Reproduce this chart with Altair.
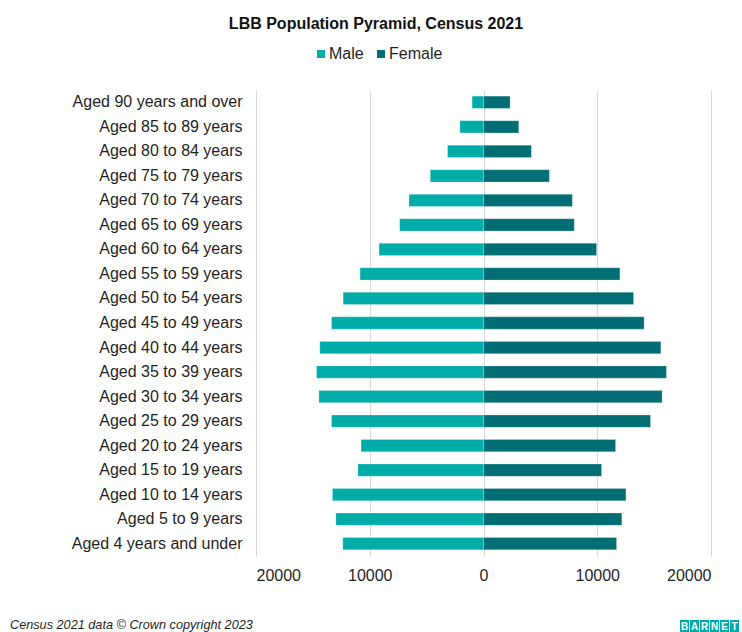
import altair as alt
import pandas as pd

# Age bands, oldest first (top of the pyramid)
age_bands = [
    "Aged 90 years and over", "Aged 85 to 89 years", "Aged 80 to 84 years",
    "Aged 75 to 79 years", "Aged 70 to 74 years", "Aged 65 to 69 years",
    "Aged 60 to 64 years", "Aged 55 to 59 years", "Aged 50 to 54 years",
    "Aged 45 to 49 years", "Aged 40 to 44 years", "Aged 35 to 39 years",
    "Aged 30 to 34 years", "Aged 25 to 29 years", "Aged 20 to 24 years",
    "Aged 15 to 19 years", "Aged 10 to 14 years", "Aged 5 to 9 years",
    "Aged 4 years and under",
]
male = [1000, 2080, 3160, 4680, 6550, 7370, 9180, 10850, 12340, 13360,
        14390, 14680, 14470, 13360, 10760, 11050, 13280, 12980, 12370]
female = [2340, 3100, 4210, 5790, 7810, 7980, 9940, 11990, 13190, 14120,
          15590, 16080, 15700, 14680, 11610, 10380, 12520, 12160, 11700]

x_ticks = [-20000, -10000, 0, 10000, 20000]
sexes = ["Male", "Female"]
colours = ["#00ACA8", "#006E74"]

title_text = "LBB Population Pyramid, Census 2021"
footer_text = "Census 2021 data \u00a9 Crown copyright 2023"
logo_letters = list("BARNET")

FONT = "Liberation Sans"
TEXT_COLOUR = "#1F1F1F"

# Layout (autosize none): plot area sits inside fixed padding
PAD = {"left": 256, "top": 90, "right": 31, "bottom": 76}
W, H = 455, 466

df = pd.DataFrame({"age": age_bands, "Male": male, "Female": female})

bars = (
    alt.Chart(df)
    .transform_fold(sexes, as_=["sex", "count"])
    .transform_calculate(
        signed="datum.sex === 'Male' ? -datum.count : datum.count"
    )
    .mark_bar(stroke="white", strokeWidth=0.4, strokeOpacity=0.6)
    .encode(
        x=alt.X(
            "signed:Q",
            scale=alt.Scale(domain=[x_ticks[0], x_ticks[-1]], nice=False),
            axis=alt.Axis(
                values=x_ticks,
                labelExpr="format(abs(datum.value), 'd')",
                title=None,
                grid=True,
                gridColor="#D9D9D9",
                gridWidth=1,
                domain=False,
                ticks=False,
                labelPadding=11,
                labelFontSize=16,
                labelFont=FONT,
                labelColor=TEXT_COLOUR,
            ),
        ),
        y=alt.Y(
            "age:N",
            sort=age_bands,
            scale=alt.Scale(paddingInner=0.5, paddingOuter=0.25),
            axis=alt.Axis(
                title=None,
                domain=False,
                ticks=False,
                grid=False,
                labelPadding=14,
                labelFontSize=16,
                labelFont=FONT,
                labelColor=TEXT_COLOUR,
                labelLimit=300,
            ),
        ),
        color=alt.Color(
            "sex:N",
            scale=alt.Scale(domain=sexes, range=colours),
            legend=alt.Legend(
                title=None,
                orient="none",
                direction="horizontal",
                legendX=57,
                legendY=-44,
                symbolType="square",
                symbolSize=64,
                symbolStrokeWidth=0,
                labelFontSize=16,
                labelFont=FONT,
                labelColor=TEXT_COLOUR,
                labelOffset=0,
                columnPadding=9,
                padding=0,
            ),
        ),
    )
)

title = (
    alt.Chart(pd.DataFrame({"t": [title_text]}))
    .mark_text(font=FONT, fontSize=16, fontWeight="bold", color="#111111",
               align="center", baseline="alphabetic")
    .encode(x=alt.value(120), y=alt.value(-61), text="t:N")
)

footer = (
    alt.Chart(pd.DataFrame({"t": [footer_text]}))
    .mark_text(font=FONT, fontSize=12.7, fontStyle="italic", color=TEXT_COLOUR,
               align="left", baseline="alphabetic")
    .encode(x=alt.value(-246), y=alt.value(539), text="t:N")
)

# Council logotype: each letter in its own teal box
logo_layers = []
for i, letter in enumerate(logo_letters):
    x0 = 424 + 10 * i
    box = (
        alt.Chart(pd.DataFrame({"l": [letter]}))
        .mark_rect(color="#00ACA8")
        .encode(x=alt.value(x0), x2=alt.value(x0 + 9),
                y=alt.value(530), y2=alt.value(542))
    )
    txt = (
        alt.Chart(pd.DataFrame({"l": [letter]}))
        .mark_text(font=FONT, fontSize=10, fontWeight="bold", color="white",
                   align="center", baseline="middle")
        .encode(x=alt.value(x0 + 4.5), y=alt.value(536.5), text="l:N")
    )
    logo_layers += [box, txt]

chart = (
    alt.layer(bars, title, footer, *logo_layers)
    .properties(
        width=W,
        height=H,
        padding=PAD,
        autosize=alt.AutoSizeParams(type="none"),
        background="white",
    )
    .configure_view(stroke=None)
)

chart.save("out.html", embed_options={"renderer": "svg", "actions": False})
